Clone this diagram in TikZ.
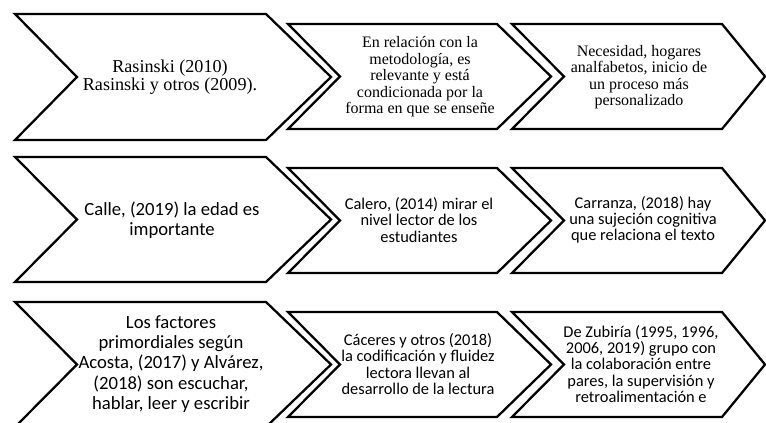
\documentclass[tikz,border=0pt]{standalone}
\usepackage{fontspec}
\setmainfont{Liberation Serif}
\newfontfamily\carlito{Carlito}
\usetikzlibrary{calc}

% chevron: left x, notch depth, corner x, tip x, top y, bottom y
\newcommand{\chevron}[6]{%
  \draw[chev] (#1,#5) -- (#3,#5) -- (#4,{(#5+#6)/2}) -- (#3,#6) -- (#1,#6)
    -- ({#1+#2},{(#5+#6)/2}) -- cycle;}

\begin{document}
\begin{tikzpicture}[x=0.75pt,y=-0.75pt,
    chev/.style={line width=1.7pt,line join=miter},
    bigserif/.style={align=center,font=\fontsize{13.6}{13.8}\selectfont},
    smallserif/.style={align=center,font=\fontsize{12}{12.4}\selectfont},
    bigsans/.style={align=center,font=\carlito\fontsize{14}{15.3}\selectfont},
    smallsans/.style={align=center,font=\carlito\fontsize{12.3}{12.2}\selectfont}]
    \useasboundingbox (0,0) rectangle (766,423);
    \clip (0,0) rectangle (766,423);

    % Row 1
    \chevron{15}{62}{266}{331}{14}{140}
    \chevron{288}{52}{497}{551}{24}{129}
    \chevron{512}{52}{722}{765}{24}{129}
    \node[bigserif] (rasinski) at (170,77) {Rasinski (2010)\\Rasinski y otros (2009).};
    \node[smallserif] (metodo) at (420,77) {En relación con la\\metodología, es\\relevante y está\\condicionada por la\\forma en que se enseñe};
    \node[smallserif] (necesidad) at (639,77) {Necesidad, hogares\\analfabetos, inicio de\\un proceso más\\personalizado};

    % Row 2
    \chevron{15}{62}{266}{331}{157}{282}
    \chevron{288}{52}{497}{551}{168}{273}
    \chevron{512}{52}{722}{765}{168}{273}
    \node[bigsans] (calle) at (172,220) {Calle, (2019) la edad es\\importante};
    \node[smallsans] (calero) at (419,220) {Calero, (2014) mirar el\\nivel lector de los\\estudiantes};
    \node[smallsans] (carranza) at (643,220) {Carranza, (2018) hay\\una sujeción cognitiva\\que relaciona el texto};

    % Row 3 (cut off at the bottom)
    \chevron{15}{62}{266}{331}{302}{427}
    \chevron{288}{52}{497}{551}{312}{417}
    \chevron{512}{52}{722}{765}{312}{417}
    \node[bigsans] (factores) at (171,364) {Los factores\\primordiales según\\Acosta, (2017) y Alvárez,\\(2018) son escuchar,\\hablar, leer y escribir};
    \node[smallsans] (caceres) at (418,364) {Cáceres y otros (2018)\\la codificación y fluidez\\lectora llevan al\\desarrollo de la lectura};
    \node[smallsans] (zubiria) at (641,364) {De Zubiría (1995, 1996,\\2006, 2019) grupo con\\la colaboración entre\\pares, la supervisión y\\retroalimentación e};
\end{tikzpicture}
\end{document}
